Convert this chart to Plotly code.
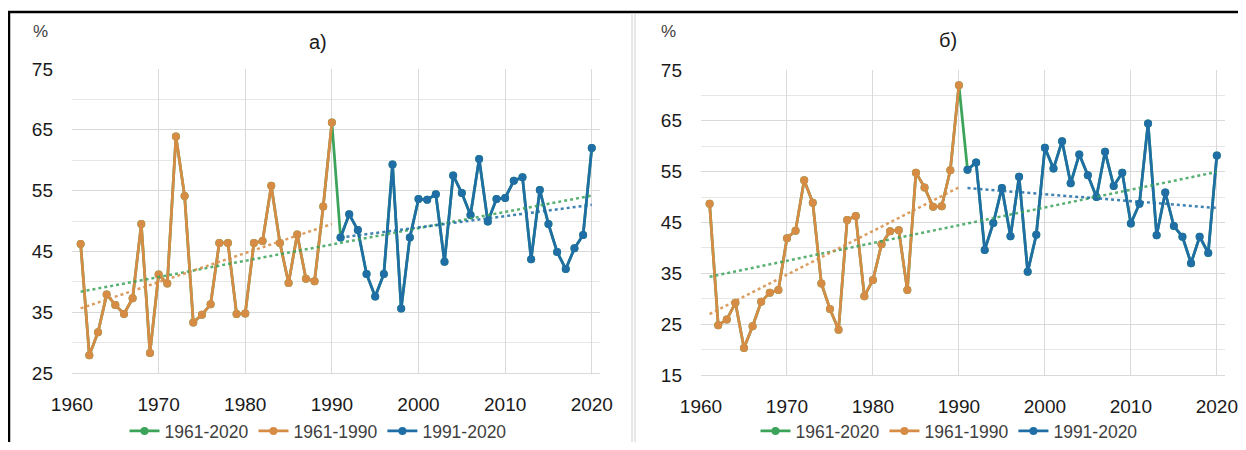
import numpy as np
import plotly.graph_objects as go

years = list(range(1961, 2021))

# Panel а)
vals_a = [46.2, 27.9, 31.7, 37.9, 36.2, 34.7, 37.3, 49.5, 28.3, 41.2,
          39.7, 63.9, 54.1, 33.3, 34.6, 36.3, 46.4, 46.4, 34.7, 34.8,
          46.4, 46.7, 55.8, 46.4, 39.8, 47.8, 40.5, 40.1, 52.4, 66.2,
          47.3, 51.1, 48.5, 41.3, 37.6, 41.3, 59.3, 35.6, 47.3, 53.6,
          53.5, 54.4, 43.3, 57.5, 54.6, 51.0, 60.2, 49.9, 53.6, 53.8,
          56.6, 57.2, 43.7, 55.1, 49.5, 44.9, 42.1, 45.5, 47.7, 62.0]

# Panel б)
vals_b = [48.7, 24.8, 25.9, 29.2, 20.3, 24.6, 29.4, 31.2, 31.7, 41.9,
          43.4, 53.3, 48.9, 33.0, 28.0, 23.9, 45.5, 46.3, 30.5, 33.7,
          40.7, 43.3, 43.5, 31.7, 54.8, 51.9, 48.1, 48.2, 55.3, 72.0,
          55.4, 56.8, 39.6, 44.9, 51.8, 42.3, 54.0, 35.3, 42.6, 59.7,
          55.6, 61.0, 52.7, 58.4, 54.3, 50.0, 58.9, 52.2, 54.8, 44.8,
          48.7, 64.5, 42.5, 50.9, 44.3, 42.2, 37.0, 42.2, 39.0, 58.2]

series_names = ["1961-2020", "1961-1990", "1991-2020"]
colors = ["#3ca35a", "#d68c45", "#1f6ea6"]
x_ticks = [1960, 1970, 1980, 1990, 2000, 2010, 2020]
titles = ["а)", "б)"]

FONT = "Liberation Sans"

fig = go.Figure()


def add_panel(vals, xa, ya, legend):
    yrs = np.array(years)
    v = np.array(vals)
    segs = [(yrs, v), (yrs[:30], v[:30]), (yrs[30:], v[30:])]
    for (sx, sy), name, col in zip(segs, series_names, colors):
        fig.add_trace(go.Scatter(
            x=sx, y=sy, mode="lines+markers", name=name,
            line=dict(color=col, width=2.75),
            marker=dict(color=col, size=8),
            xaxis=xa, yaxis=ya, legend=legend))
    for (sx, sy), col in zip(segs, colors):
        k, b = np.polyfit(sx, sy, 1)
        ends = np.array([sx[0], sx[-1]])
        fig.add_trace(go.Scatter(
            x=ends, y=k * ends + b, mode="lines", showlegend=False,
            line=dict(color=col, width=2.5, dash="dot"),
            hoverinfo="skip", xaxis=xa, yaxis=ya, opacity=0.85))


add_panel(vals_a, "x", "y", "legend")
add_panel(vals_b, "x2", "y2", "legend2")

# The page body adds an 8 px margin, so the figure is 16 px smaller
# and every screen position is shifted by 8 px.
OFF = 8
W, H = 1246 - 2 * OFF, 450 - 2 * OFF


def px_x(p):
    return (p - OFF) / W


def px_y(p):
    return 1 - (p - OFF) / H


xaxis_common = dict(
    range=[1960, 2020.95], tickvals=x_ticks, showgrid=True,
    gridcolor="#d9d9d9", gridwidth=1, zeroline=False,
    showline=True, linecolor="#d9d9d9", linewidth=1, automargin=False,
    tickfont=dict(family=FONT, size=19, color="#1a1a1a"),
    ticks="", ticklabelstandoff=14, fixedrange=True)
yaxis_common = dict(
    showgrid=True, gridcolor="#d9d9d9", gridwidth=1, zeroline=False,
    showline=False, dtick=10, automargin=False,
    minor=dict(dtick=5, showgrid=True, gridcolor="#e6e6e6", gridwidth=1),
    tickfont=dict(family=FONT, size=19, color="#1a1a1a"),
    ticks="", ticklabelstandoff=18, fixedrange=True)

fig.update_layout(
    width=W, height=H,
    margin=dict(l=0, r=0, t=0, b=0, autoexpand=False),
    paper_bgcolor="white", plot_bgcolor="white",
    font=dict(family=FONT),
    xaxis=dict(domain=[px_x(72), px_x(600)], anchor="y", **xaxis_common),
    yaxis=dict(domain=[px_y(373), px_y(69)], anchor="x", range=[25, 75],
               tick0=25, **yaxis_common),
    xaxis2=dict(domain=[px_x(701), px_x(1225)], anchor="y2", **xaxis_common),
    yaxis2=dict(domain=[px_y(375), px_y(70)], anchor="x2", range=[15, 75],
                tick0=15, **yaxis_common),
    legend=dict(orientation="h", x=px_x(318), y=px_y(431), xanchor="center",
                yanchor="middle", font=dict(family=FONT, size=17.5, color="#404040"),
                bgcolor="rgba(0,0,0,0)", itemwidth=30),
    legend2=dict(orientation="h", x=px_x(949), y=px_y(431), xanchor="center",
                 yanchor="middle", font=dict(family=FONT, size=17.5, color="#404040"),
                 bgcolor="rgba(0,0,0,0)", itemwidth=30),
    showlegend=True,
)

# Titles and unit labels
for t, xc, yc in [(titles[0], 318, 42), (titles[1], 948, 40)]:
    fig.add_annotation(text=t, x=px_x(xc), y=px_y(yc), xref="paper", yref="paper",
                       xanchor="center", yanchor="middle", showarrow=False,
                       font=dict(family=FONT, size=20, color="#1a1a1a"))
for xc in [40, 668]:
    fig.add_annotation(text="%", x=px_x(xc), y=px_y(32), xref="paper", yref="paper",
                       xanchor="center", yanchor="middle", showarrow=False,
                       font=dict(family=FONT, size=17, color="#404040"))

# Frame lines
fig.add_shape(type="line", xref="paper", yref="paper", x0=px_x(8), x1=1,
              y0=px_y(12), y1=px_y(12), line=dict(color="black", width=2.5))
fig.add_shape(type="line", xref="paper", yref="paper", x0=px_x(9), x1=px_x(9),
              y0=px_y(12), y1=0, line=dict(color="black", width=2.5))
for xc in [632, 635]:
    fig.add_shape(type="line", xref="paper", yref="paper", x0=px_x(xc), x1=px_x(xc),
                  y0=px_y(13), y1=0, line=dict(color="#d0d0d0", width=1))

fig.write_html("out.html")
